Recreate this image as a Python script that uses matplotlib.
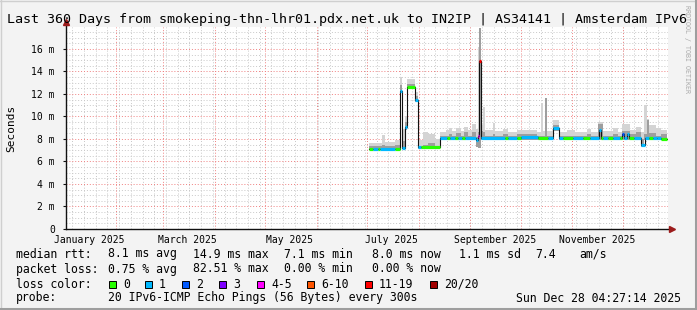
import numpy as np
import matplotlib
matplotlib.use("Agg")
from matplotlib import pyplot as plt
from matplotlib.patches import Rectangle
from matplotlib.lines import Line2D
from datetime import datetime, timedelta

plt.rcParams["font.family"] = ["DejaVu Sans Mono"]

W, H = 697, 310
start = datetime(2025, 1, 2, 4, 27, 14)
span_days = 360

# median rtt segments: start day (from start), value in ms, loss colour index
seg_day = [181.2, 183.6, 186.6, 187.8, 196.8, 199.5, 201.0, 202.8, 204.2, 208.7,
           210.2, 212.3, 223.4, 227.9, 229.7, 232.7, 234.4, 236.8, 238.6, 244.9,
           246.1, 247.0, 247.9, 262.6, 264.4, 269.7, 272.1, 282.3, 288.3, 291.3,
           294.9, 297.2, 303.2, 309.2, 313.4, 318.8, 320.0, 321.2, 324.2, 327.2,
           331.3, 332.5, 333.7, 335.5, 336.7, 339.7, 343.9, 346.0, 348.4, 350.8,
           353.2, 355.6]
seg_ms = [7.15, 7.15, 7.15, 7.15, 7.15, 12.3, 7.2, 9.1, 12.65, 11.5,
          7.25, 7.25, 8.05, 8.05, 8.05, 8.05, 8.05, 8.05, 8.05, 7.9,
          8.3, 14.9, 8.05, 8.05, 8.05, 8.05, 8.15, 8.05, 8.05, 8.95,
          8.05, 8.05, 8.05, 8.05, 8.05, 8.8, 8.05, 8.05, 8.05, 8.05,
          8.05, 8.4, 8.05, 8.4, 8.05, 8.05, 7.45, 8.05, 8.05, 8.05,
          8.05, 8.0]
seg_loss = [0, 1, 0, 1, 0, 1, 1, 1, 0, 1,
            1, 0, 1, 0, 1, 0, 1, 0, 1, 1,
            4, 6, 1, 0, 1, 0, 1, 0, 1, 1,
            1, 0, 1, 0, 1, 1, 0, 1, 0, 1,
            0, 2, 1, 1, 0, 1, 1, 1, 0, 1,
            1, 0]
data_end = 359.2

# smoke: start day, min, dense band top, max (ms)
smoke_day = [181.2, 189.0, 190.8, 196.8, 199.5, 201.0, 202.8, 204.2, 208.7, 210.2,
             213.5, 216.5, 220.7, 223.4, 227.3, 229.1, 230.9, 233.3, 236.2, 238.0,
             240.4, 242.8, 244.9, 246.1, 247.0, 248.2, 249.4, 250.6, 255.4, 256.6,
             261.4, 264.4, 269.7, 281.7, 284.1, 285.3, 286.5, 287.4, 291.3, 294.9,
             299.6, 304.4, 311.6, 314.0, 318.2, 321.2, 327.2, 330.1, 332.5, 337.3,
             340.9, 343.9, 345.7, 347.2, 348.7, 352.9, 355.9]
smoke_lo = [7.05, 7.05, 7.05, 7.05, 12.2, 7.1, 8.8, 12.5, 11.3, 7.1,
            7.1, 7.1, 7.1, 7.95, 7.95, 7.95, 7.95, 7.95, 7.95, 7.95,
            7.95, 7.9, 7.3, 7.2, 7.2, 7.95, 7.95, 7.95, 7.95, 7.95,
            7.95, 7.95, 7.95, 7.95, 7.95, 7.95, 7.95, 7.95, 8.7, 7.95,
            7.95, 7.95, 7.95, 7.95, 7.95, 7.95, 7.95, 7.95, 7.95, 7.95,
            7.95, 7.3, 7.95, 7.95, 7.95, 7.95, 7.95]
smoke_mid = [7.35, 7.5, 7.35, 7.5, 12.8, 7.8, 9.5, 12.9, 11.8, 7.4,
             7.5, 7.6, 7.4, 8.3, 8.3, 8.4, 8.3, 8.5, 8.3, 8.6,
             8.3, 8.6, 8.2, 8.6, 17.9, 8.7, 8.6, 8.3, 8.4, 8.3,
             8.4, 8.3, 8.4, 8.3, 8.3, 8.3, 11.6, 8.3, 9.2, 8.3,
             8.3, 8.3, 8.4, 8.3, 9.3, 8.3, 8.4, 8.3, 8.7, 8.4,
             8.6, 8.0, 8.4, 9.7, 8.5, 8.3, 8.4]
smoke_hi = [7.6, 8.35, 7.7, 7.9, 13.5, 8.9, 10.0, 13.3, 12.2, 7.9,
            8.6, 8.4, 8.0, 8.6, 8.8, 9.0, 8.7, 9.0, 8.7, 9.1,
            8.8, 9.3, 8.9, 16.2, 17.9, 9.2, 10.8, 8.8, 9.45, 8.7,
            8.9, 8.6, 8.8, 8.6, 11.2, 8.7, 11.6, 8.7, 9.7, 8.6,
            8.8, 8.6, 8.9, 8.6, 9.5, 8.7, 9.0, 8.6, 9.3, 8.8,
            9.1, 8.6, 11.0, 9.8, 9.2, 9.0, 8.8]

loss_colors = ["#26ff00", "#00b8ff", "#0059ff", "#7e00ff", "#ff00ff", "#ff5500", "#ff0000", "#a10000"]
loss_labels = ["0", "1", "2", "3", "4-5", "6-10", "11-19", "20/20"]

y_ticks = [0, 2, 4, 6, 8, 10, 12, 14, 16]
y_labels = ["0", "2 m", "4 m", "6 m", "8 m", "10 m", "12 m", "14 m", "16 m"]
x_label_months = [1, 3, 5, 7, 9, 11]

title = "Last 360 Days from smokeping-thn-lhr01.pdx.net.uk to IN2IP | AS34141 | Amsterdam IPv6"
rtt_stats = [("median rtt:", 16), ("8.1 ms avg", 107.6), ("14.9 ms max", 193.3), ("7.1 ms min", 284.4),
             ("8.0 ms now", 372.4), ("1.1 ms sd", 458.7), ("7.4", 535.5), ("am/s", 579)]
loss_stats = [("packet loss:", 16), ("0.75 % avg", 107.6), ("82.51 % max", 193.3),
              ("0.00 % min", 284.4), ("0.00 % now", 372.4)]
probe_text = "20 IPv6-ICMP Echo Pings (56 Bytes) every 300s"
stamp_text = "Sun Dec 28 04:27:14 2025"


def days(d):
    return (d - start).total_seconds() / 86400.0


def fx(x):
    return x / W


def fy(y):
    return 1 - y / H


fig = plt.figure(figsize=(W / 100, H / 100), dpi=100, facecolor="#f3f3f3")
ax = fig.add_axes([fx(66), fy(229), (668 - 66) / W, (229 - 27) / H])
ax.set_xlim(0, span_days)
ax.set_ylim(0, 17.95)
ax.set_facecolor("white")
for s in ax.spines.values():
    s.set_visible(False)

# grid: weekly + every 0.5 ms (minor), monthly + every 2 ms (major)
monday = datetime(2025, 1, 6)
while days(monday) < span_days:
    ax.axvline(days(monday), color="#c8c8c8", lw=0.7, ls=(0, (1, 2)), zorder=1)
    monday += timedelta(days=7)
for v in np.arange(0.5, 18, 0.5):
    if v % 2 != 0:
        ax.axhline(v, color="#c8c8c8", lw=0.7, ls=(0, (1, 2)), zorder=1)
for m in range(2, 13):
    ax.axvline(days(datetime(2025, m, 1)), color="#f08080", lw=0.7, ls=(0, (1, 2)), zorder=1.5)
for v in y_ticks[1:]:
    ax.axhline(v, color="#f08080", lw=0.7, ls=(0, (1, 2)), zorder=1.5)

# smoke
sx = smoke_day + [data_end]
ax.fill_between(sx, smoke_lo + [smoke_lo[-1]], smoke_hi + [smoke_hi[-1]], step="post",
                color="#d4d4d4", lw=0, zorder=2)
ax.fill_between(sx, smoke_lo + [smoke_lo[-1]], smoke_mid + [smoke_mid[-1]], step="post",
                color="#9e9e9e", lw=0, zorder=2.1)

# median
mx = seg_day + [data_end]
ax.step(mx, seg_ms + [seg_ms[-1]], where="post", color="#111111", lw=0.8, zorder=3)
ax.hlines(seg_ms, seg_day, seg_day[1:] + [data_end],
          colors=[loss_colors[i] for i in seg_loss], lw=2.3, zorder=4)

# axes with arrows
ax.plot([0, span_days + 3], [0, 0], color="#111111", lw=1, clip_on=False, zorder=5)
ax.plot([0, 0], [0, 18.4], color="#111111", lw=1, clip_on=False, zorder=5)
ax.plot([span_days + 2.2], [0], marker=">", color="#9c1b1b", ms=5, clip_on=False, zorder=6)
ax.plot([0], [18.35], marker="^", color="#9c1b1b", ms=5, clip_on=False, zorder=6)

ax.set_yticks(y_ticks)
ax.set_yticklabels(y_labels)
ax.set_xticks([days(datetime(2025, m, 16)) for m in x_label_months])
ax.set_xticklabels([datetime(2025, m, 1).strftime("%B %Y") for m in x_label_months])
ax.tick_params(axis="y", length=2, width=0.8, color="#111111", pad=6, labelsize=7)
ax.tick_params(axis="x", length=0, pad=4, labelsize=7)

# texts
fig.text(fx(7), fy(19), title, fontsize=9.6, va="center", ha="left")
fig.text(fx(11), fy(128), "Seconds", fontsize=8, rotation=90, va="center", ha="center")
fig.text(fx(687), fy(5), "RRDTOOL / TOBI OETIKER", fontsize=4.8, rotation=270,
         va="top", ha="center", color="#aaaaaa")

for txt, x in rtt_stats:
    fig.text(fx(x), fy(254), txt, fontsize=8.3, va="center", ha="left")
for txt, x in loss_stats:
    fig.text(fx(x), fy(269), txt, fontsize=8.3, va="center", ha="left")
fig.text(fx(16), fy(284), "loss color:", fontsize=8.3, va="center", ha="left")
box_x = [109, 145, 182, 219, 257, 307, 365, 430]
for i, lab in enumerate(loss_labels):
    fig.add_artist(Rectangle((fx(box_x[i]), fy(287.5)), 7 / W, 7 / H, transform=fig.transFigure,
                             facecolor=loss_colors[i], edgecolor="black", lw=0.7))
    fig.text(fx(box_x[i] + 14), fy(284), lab, fontsize=8.3, va="center", ha="left")
fig.text(fx(16), fy(298), "probe:", fontsize=8.3, va="center", ha="left")
fig.text(fx(107.6), fy(298), probe_text, fontsize=8.3, va="center", ha="left")
fig.text(fx(681), fy(298), stamp_text, fontsize=8.3, va="center", ha="right")

# 3d frame
fig.add_artist(Line2D([0, 1], [fy(0.5), fy(0.5)], color="#cfcfcf", lw=1))
fig.add_artist(Line2D([fx(0.5), fx(0.5)], [0, 1], color="#cfcfcf", lw=1))
fig.add_artist(Line2D([0, 1], [fy(308.5), fy(308.5)], color="#9e9e9e", lw=2.2))
fig.add_artist(Line2D([fx(695.5), fx(695.5)], [0, 1], color="#9e9e9e", lw=2.2))

fig.savefig("out.png", dpi=100, facecolor=fig.get_facecolor())
